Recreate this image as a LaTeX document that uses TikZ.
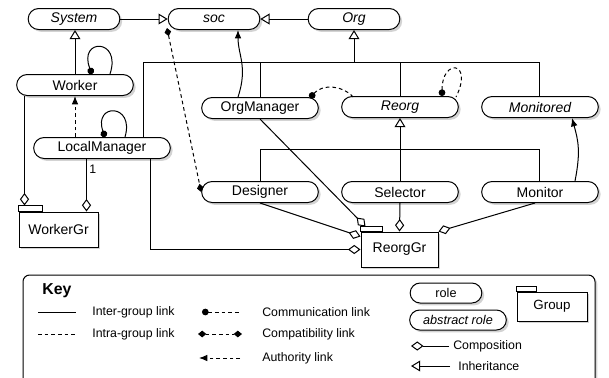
\documentclass[tikz,border=0pt]{standalone}
\usepackage{fontspec}
\setmainfont{Liberation Sans}
\usetikzlibrary{arrows.meta,calc,shapes.misc,shadows}

\tikzset{
  role/.style={rounded rectangle,draw,fill=white,minimum width=72pt,minimum height=12.6pt,inner sep=1pt,
    drop shadow={shadow xshift=1.4pt,shadow yshift=-1.4pt,opacity=0.35}},
  arole/.style={role,font=\fontsize{8.4}{10}\selectfont\itshape},
  grp/.style={rectangle,draw,fill=white,minimum width=47.4pt,minimum height=21pt,inner sep=1pt,
    drop shadow={shadow xshift=1.4pt,shadow yshift=-1.4pt,opacity=0.35}},
  keytxt/.style={font=\fontsize{7.4}{9}\selectfont,anchor=west,inner sep=0.5pt},
  dsh/.style={dash pattern=on 2.2pt off 1.8pt},
  inh/.style={-{Triangle[open,length=5.5pt,width=6.5pt]}},
  comp/.style={-{Diamond[open,length=7.5pt,width=5.5pt]}},
  auth/.style={-{Latex[length=5pt,width=4pt]}},
  comm/.style={{Circle[length=4pt]}-},
  compat/.style={{Diamond[length=5pt,width=4pt]}-{Diamond[length=5pt,width=4pt]}}
}

\begin{document}
\begin{tikzpicture}
	[x=0.6pt,y=-0.6pt,line width=0.6pt,font=\fontsize{8.4}{10}\selectfont]

	\useasboundingbox (0,0) rectangle (609,377);
	\clip (0,0) rectangle (609,377);

	\node[arole,minimum width=57pt] (sys) at (74,19) {System};
	\node[arole,minimum width=57pt] (soc) at (214,19) {soc};
	\node[arole,minimum width=57pt] (org) at (354,19) {Org};
	\node[role] (wk) at (75,85) {Worker};
	\node[role,minimum width=84pt] (lm) at (102,148) {LocalManager};
	\node[role] (om) at (260,108) {OrgManager};
	\node[arole] (reorg) at (400,107) {Reorg};
	\node[arole] (mond) at (540,107) {Monitored};
	\node[role] (des) at (260,192) {Designer};
	\node[role] (sel) at (400,192) {Selector};
	\node[role] (mon) at (540,192) {Monitor};
	\node[grp] (wgr) at (58.5,229.5) {WorkerGr};
	\node[grp,minimum width=46.2pt] (rgr) at (399.5,249.5) {ReorgGr};
	\draw[fill=white] (wgr.north west) rectangle ++(24,-6);
	\draw[fill=white] (rgr.north west) rectangle ++(22,-5);

	\coordinate (fanA) at (143,62);
	\coordinate (fanB) at (539,62);
	\coordinate (fanC) at (260,149);
	\coordinate (fanD) at (539,149);

	\draw[inh] (sys.east) -- (soc.west);
	\draw[inh] (org.west) -- (soc.east);
	\draw[inh] (wk.north) -- (wk.north |- sys.south);
	\draw (fanA |- lm.north) -- (fanA) -- (fanB) -- (fanB |- mond.north);
	\draw (om.north) -- (om.north |- fanA);
	\draw (reorg.north) -- (reorg.north |- fanA);
	\draw[inh] (org.south |- fanA) -- (org.south);
	\draw (des.north) -- (fanC) -- (fanD) -- (fanD |- mon.north);
	\draw[inh] (sel.north) -- (reorg.south);

	\draw[auth,dsh] (wk.south |- lm.north) -- (wk.south);
	\draw[auth] ($(om.north)+(-22,0)$) .. controls +(10,-30) and +(0,25) .. ($(soc.south)+(24,0)$);
	\draw[auth] ($(mon.north)+(35,0)$) .. controls +(6,-30) and +(6,22) .. ($(mond.south)+(32,0)$);

	\draw[comm] ($(wk.north)+(17,0)$) .. controls +(-14,-36) and +(12,-36) .. ($(wk.north)+(35,0)$);
	\draw[comm] ($(lm.north)+(3,0)$) .. controls +(-12,-34) and +(10,-34) .. ($(lm.north)+(23,0)$);
	\draw[comm,dsh] ($(reorg.north)+(42,0)$) .. controls +(0,-38) and +(18,-36) .. ($(reorg.north)+(56,1)$);
	\draw[comm,dsh] ($(om.north)+(50,1)$) .. controls +(12,-14) and +(-10,-12) .. ($(reorg.north)+(-47,1)$);
	\draw[compat,dsh] ($(soc.south)+(-47,-2)$) -- (des.west);

	\draw[comp] (wk.south -| {$(wgr.north west)+(6,-6)$}) -- ($(wgr.north west)+(6,-6)$);
	\draw[comp] (lm.south -| {$(wgr.north east)+(-12,0)$}) -- node[pos=0.2,right,inner sep=1.5pt,font=\fontsize{7.4}{9}\selectfont] {1} ($(wgr.north east)+(-12,0)$);
	\draw[comp] ($(lm.south)+(48,0)$) |- (rgr.west);
	\draw[comp] (om.south) -- ($(rgr.north west)+(5,-5)$);
	\draw[comp] (des.south) -- ($(rgr.north west)+(0,5)$);
	\draw[comp] (sel.south) -- (rgr.north);
	\draw[comp] ($(mon.south)+(-5,0)$) -- (rgr.north east);

	\draw[fill=white,rounded corners=4pt,drop shadow={shadow xshift=1.4pt,shadow yshift=-1.4pt,opacity=0.35}] (23,275) rectangle (595,390);
	\node[font=\bfseries\fontsize{9.5}{11}\selectfont] (keyt) at (57,291) {Key};
	\node[keytxt] (kinter) at (91,312) {Inter-group link};
	\node[keytxt] (kintra) at (91,334) {Intra-group link};
	\node[keytxt] (kcomm) at (261,312) {Communication link};
	\node[keytxt] (kcompat) at (261,334) {Compatibility link};
	\node[keytxt] (kauth) at (261,358) {Authority link};
	\node[role,minimum width=45pt,minimum height=12pt,font=\fontsize{7.6}{9}\selectfont] (krole) at (446,293) {role};
	\node[arole,minimum width=60pt,minimum height=12pt,font=\fontsize{7.6}{9}\selectfont\itshape] (karole) at (458,320) {abstract role};
	\node[keytxt] (kcomp) at (452,346) {Composition};
	\node[keytxt] (kinh) at (457,366) {Inheritance};
	\node[grp,minimum width=42pt,minimum height=17.4pt,font=\fontsize{8}{10}\selectfont] (kgrp) at (552,306.5) {Group};
	\draw[fill=white] (kgrp.north west) rectangle ++(20,-5);

	\draw ($(kinter.west)+(-53,0)$) -- ($(kinter.west)+(-15,0)$);
	\draw[dsh] ($(kintra.west)+(-53,0)$) -- ($(kintra.west)+(-15,0)$);
	\draw[comm,dsh] ($(kcomm.west)+(-59,0)$) -- ($(kcomm.west)+(-21,0)$);
	\draw[compat,dsh] ($(kcompat.west)+(-63,0)$) -- ($(kcompat.west)+(-19,0)$);
	\draw[auth,dsh] ($(kauth.west)+(-21,0)$) -- ($(kauth.west)+(-62,0)$);
	\draw[comp] ($(kcomp.west)+(-3,0)$) -- ($(kcomp.west)+(-41,0)$);
	\draw[inh] ($(kinh.west)+(-7,0)$) -- ($(kinh.west)+(-46,0)$);
\end{tikzpicture}
\end{document}
